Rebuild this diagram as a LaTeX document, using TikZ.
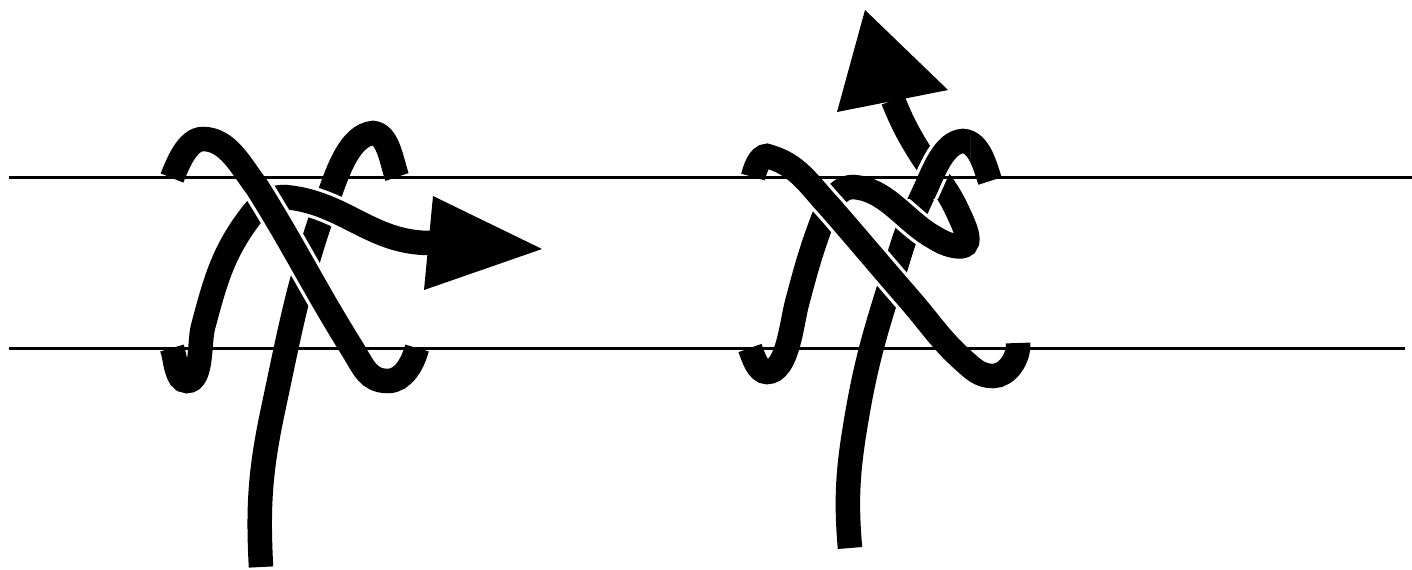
\documentclass[tikz,border=0pt]{standalone}
\usepackage{tikz}
\usetikzlibrary{arrows.meta, positioning}
\newcommand{\strandF}{(850,548) to[out=95,in=-100] (858,410) to[out=80,in=-107] (900,253)
  to[out=73,in=-115] (925,190) to[out=65,in=183,looseness=.8] (963,141) to[out=-3,in=108,looseness=.85] (990,181)}
\begin{document}
\begin{tikzpicture}[
  x=0.02cm, y=-0.02cm,
  strand/.style={line width=0.49cm, black, line cap=butt},
  over/.style={strand, preaction={draw, white, line width=0.62cm}},
  rail/.style={line width=0.06cm, black},
  head/.style={fill=black}
]
\useasboundingbox (0,0) rectangle (1412,569);
% rail ends
\coordinate (Tl) at (9,177);
\coordinate (Tr) at (1412,177);
\coordinate (Bl) at (9,348);
\coordinate (Br) at (1405,348);
% left figure
\draw[strand] (261,567) to[out=93,in=-102] (273,410) to[out=78,in=-110] (330,193)
  to[out=70,in=185,looseness=.8] (373,133) to[out=-5,in=110,looseness=.8] (397,177);
\draw[over] (172,348) to[out=-70,in=180,looseness=.8] (187,381) to[out=0,in=-105,looseness=.7] (203,327)
  to[out=75,in=232] (253,213) to[out=50,in=180] (285,197) to[out=-5,in=180] (430,243);
\draw[over] (172,178) to[out=68,in=180,looseness=.8] (203,139) to[out=0,in=128,looseness=.9] (257,187)
  to[out=-58,in=122] (353,350) to[out=-58,in=180,looseness=1.1] (388,381) to[out=0,in=-105,looseness=.9] (417,348);
\fill[head] (433,196) -- (542,249) -- (424,290) -- cycle;
% right figure
\draw[strand] \strandF;
\draw[over] (750,348) to[out=-70,in=180,looseness=.8] (767,372) to[out=0,in=-105,looseness=.7] (797,303)
  to[out=75,in=-110] (820,227) to[out=70,in=180,looseness=.9] (853,187) to[out=-3,in=148,looseness=.9] (930,235)
  to[out=-30,in=170] (955,246) to[out=-10,in=-65,looseness=1.5] (957,210)
  to[out=115,in=-58] (920,153) to[out=122,in=-68] (893,100);
\begin{scope}
  \clip (905,135) rectangle (970,198);
  \draw[over] \strandF;
\end{scope}
\draw[over] (753,177) to[out=75,in=180,looseness=.8] (767,156) to[out=-15,in=133] (830,207)
  to[out=-49,in=131] (910,300) to[out=-49,in=138] (963,360) to[out=-42,in=180] (993,376) to[out=0,in=-85,looseness=.9] (1018,343);
\fill[head] (865,10) -- (948,90) -- (837,112) -- cycle;
% rails
\draw[rail] (Tl) -- (Tr);
\draw[rail] (Bl) -- (Br);
\end{tikzpicture}
\end{document}
